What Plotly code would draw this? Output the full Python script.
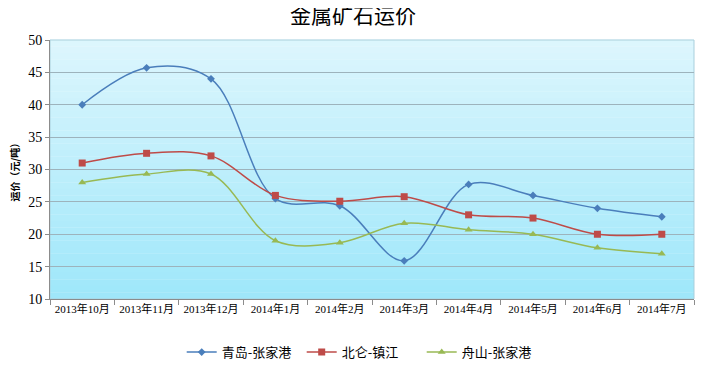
import plotly.graph_objects as go

categories = ["2013年10月", "2013年11月", "2013年12月", "2014年1月", "2014年2月",
              "2014年3月", "2014年4月", "2014年5月", "2014年6月", "2014年7月"]
qingdao = [40, 45.7, 44, 25.5, 24.4, 15.9, 27.7, 26, 24, 22.7]
beilun = [31, 32.5, 32.1, 26, 25.1, 25.8, 23, 22.5, 20, 20]
zhoushan = [28, 29.3, 29.3, 19, 18.7, 21.7, 20.7, 20, 17.9, 17]
series_names = ["青岛-张家港", "北仑-镇江", "舟山-张家港"]
y_ticks = [10, 15, 20, 25, 30, 35, 40, 45, 50]

colors = ["#4A7EBB", "#BE4B48", "#98B954"]
symbols = ["diamond", "square", "triangle-up"]
sizes = [6, 7, 7]

fig = go.Figure()
for name, vals, c, s, sz in zip(series_names, [qingdao, beilun, zhoushan], colors, symbols, sizes):
    fig.add_trace(go.Scatter(
        x=categories, y=vals, name=name, mode="lines+markers",
        line=dict(color=c, width=1.5, shape="spline", smoothing=1.0),
        marker=dict(symbol=s, size=sz, color=c),
    ))

# gradient background strips
n = 40
top = (221, 246, 253)
bot = (158, 231, 250)
shapes = []
for i in range(n):
    t = (i + 0.5) / n
    r = round(top[0] + (bot[0] - top[0]) * t)
    g = round(top[1] + (bot[1] - top[1]) * t)
    b = round(top[2] + (bot[2] - top[2]) * t)
    shapes.append(dict(type="rect", xref="paper", yref="paper",
                       x0=0, x1=1, y0=1 - (i + 1) / n, y1=1 - i / n + 0.001,
                       fillcolor=f"rgb({r},{g},{b})", line=dict(width=0), layer="below"))
shapes.append(dict(type="rect", xref="paper", yref="paper", x0=0, x1=1, y0=0, y1=1,
                   line=dict(color="#A9CFDC", width=1), fillcolor="rgba(0,0,0,0)", layer="below"))
fig.update_layout(shapes=shapes)

serif = "'Liberation Serif', 'Times New Roman', 'Noto Sans CJK SC', serif"
fig.update_layout(
    width=700, height=357,
    margin=dict(l=42, r=14, t=32, b=66, autoexpand=False),
    paper_bgcolor="white",
    plot_bgcolor="rgba(0,0,0,0)",
    title=dict(text="金属矿石运价", x=0.493, xanchor="center", y=1, yanchor="top",
               pad=dict(t=0, b=0),
               font=dict(family="'Noto Sans CJK SC'", size=21, color="#000000")),
    xaxis=dict(type="category", range=[-0.5, 9.5], showgrid=False, automargin=False,
               ticks="outside", tickson="boundaries", ticklen=5, tickcolor="#8C8C8C",
               showline=True, linecolor="#8C8C8C", linewidth=1,
               tickfont=dict(family=serif, size=11, color="#000000")),
    yaxis=dict(range=[10, 50], tickvals=y_ticks, showgrid=True, gridcolor="#9DB3BC", gridwidth=1,
               ticks="outside", ticklen=4, tickcolor="#8C8C8C", automargin=False,
               showline=True, linecolor="#8C8C8C", linewidth=1, zeroline=False,
               tickfont=dict(family=serif, size=14, color="#000000")),
    annotations=[dict(text="<b>运价（元/吨）</b>", xref="paper", yref="paper", x=0, y=0.5,
                      xanchor="center", yanchor="middle", xshift=-36, textangle=-90,
                      showarrow=False,
                      font=dict(family="'Noto Sans CJK SC'", size=10, color="#000000"))],
    legend=dict(orientation="h", x=0.484, xanchor="center", y=-0.205, yanchor="middle",
                font=dict(family="'Noto Sans CJK SC'", size=13, color="#000000"),
                itemwidth=30, tracegroupgap=0, entrywidth=75),
    showlegend=True,
)
fig.write_html("out.html")
